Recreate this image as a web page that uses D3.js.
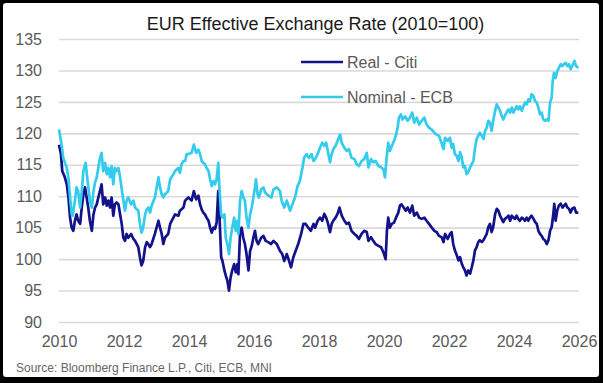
<!DOCTYPE html>
<html><head><meta charset="utf-8">
<script src="https://cdn.jsdelivr.net/npm/d3@7"></script>
<style>
body{margin:0;background:#000;}
svg{display:block;}
text{font-family:"Liberation Sans",Arial,sans-serif;}
</style>
</head><body>
<svg id="chart" width="603" height="383"></svg>
<script>
const chartTitle = "EUR Effective Exchange Rate (2010=100)";
const sourceText = "Source: Bloomberg Finance L.P., Citi, ECB, MNI";
const seriesNames = ["Real - Citi", "Nominal - ECB"];
const yTickValues = [90, 95, 100, 105, 110, 115, 120, 125, 130, 135];
const xTickValues = [2010, 2012, 2014, 2016, 2018, 2020, 2022, 2024, 2026];

const realDates = [
2010.00,2010.06,2010.10,2010.18,2010.24,2010.29,2010.34,2010.39,2010.44,2010.49,2010.54,2010.59,2010.65,2010.70,2010.75,2010.80,2010.85,2010.90,2010.95,
2011.01,2011.06,2011.11,2011.16,2011.21,2011.26,2011.31,2011.36,2011.42,2011.47,2011.52,2011.57,2011.62,2011.67,2011.72,2011.77,2011.83,2011.88,2011.93,2011.98,
2012.03,2012.08,2012.13,2012.22,2012.29,2012.34,2012.44,2012.49,2012.54,2012.59,2012.65,2012.70,2012.75,2012.80,2012.85,2012.95,
2013.06,2013.11,2013.16,2013.21,2013.26,2013.36,2013.42,2013.52,2013.57,2013.67,2013.72,2013.83,2013.88,2013.98,
2014.08,2014.15,2014.22,2014.29,2014.34,2014.39,2014.44,2014.49,2014.54,2014.60,2014.65,2014.70,2014.75,2014.80,2014.85,2014.90,2014.94,2014.99,
2015.03,2015.09,2015.13,2015.18,2015.23,2015.28,2015.33,2015.39,2015.44,2015.49,2015.52,2015.57,2015.62,2015.67,2015.72,2015.77,2015.83,2015.88,2015.93,2015.98,
2016.03,2016.08,2016.13,2016.22,2016.29,2016.36,2016.44,2016.52,2016.60,2016.70,2016.80,2016.87,2016.93,
2017.01,2017.08,2017.14,2017.21,2017.28,2017.36,2017.45,2017.52,2017.59,2017.67,2017.75,2017.83,2017.88,2017.96,
2018.03,2018.10,2018.16,2018.22,2018.27,2018.34,2018.39,2018.44,2018.51,2018.57,2018.63,2018.70,2018.78,2018.85,2018.92,
2019.00,2019.09,2019.16,2019.23,2019.31,2019.39,2019.47,2019.52,2019.60,2019.67,2019.74,2019.83,2019.91,2019.98,
2020.05,2020.09,2020.13,2020.18,2020.24,2020.31,2020.37,2020.44,2020.49,2020.54,2020.605,2020.67,2020.73,2020.80,2020.87,2020.93,
2021.01,2021.08,2021.16,2021.24,2021.31,2021.385,2021.47,2021.55,2021.62,2021.69,2021.77,2021.83,2021.88,2021.96,
2022.03,2022.08,2022.13,2022.18,2022.24,2022.29,2022.34,2022.39,2022.44,2022.49,2022.54,2022.59,2022.65,2022.70,2022.75,2022.80,2022.85,2022.90,2022.95,
2023.01,2023.06,2023.11,2023.16,2023.21,2023.26,2023.31,2023.36,2023.42,2023.47,2023.52,2023.57,2023.62,2023.67,2023.72,2023.77,2023.83,2023.88,2023.93,2023.98,
2024.03,2024.08,2024.13,2024.18,2024.24,2024.29,2024.34,2024.39,2024.44,2024.49,2024.54,2024.60,2024.65,2024.70,2024.75,2024.80,2024.85,2024.90,2024.95,
2025.01,2025.06,2025.11,2025.16,2025.21,2025.24,2025.28,2025.33,2025.38,2025.44,2025.49,2025.54,2025.59,2025.64,2025.69,2025.74,2025.79,2025.86,2025.91,2025.98
];
const realValues = [
118.2,116.7,114.0,113.0,111.9,109.8,106.6,105.0,104.5,106.1,107.1,106.1,105.6,108.2,110.3,111.4,109.8,108.2,106.1,
104.5,107.1,108.2,108.7,109.8,110.8,111.9,108.7,109.8,108.5,109.3,108.2,109.8,106.9,108.7,109.0,108.7,107.1,105.6,103.4,
102.9,104.0,103.4,104.0,103.2,102.9,101.9,100.3,99.0,99.7,101.9,102.7,102.4,101.9,102.4,104.0,
106.1,105.0,104.0,102.4,103.4,104.0,105.6,106.6,107.1,106.9,107.7,108.2,109.3,109.8,
109.3,110.8,109.5,110.1,108.7,107.9,107.4,107.1,106.6,106.1,105.0,104.2,105.0,104.8,105.8,110.8,106.6,100.3,
99.7,98.2,97.4,96.6,95.0,97.1,98.2,99.2,97.9,99.2,97.6,104.0,105.0,103.4,102.4,100.8,98.2,101.3,102.1,103.4,
104.5,102.9,102.4,103.4,103.7,102.9,102.7,102.4,102.9,102.4,101.3,100.8,99.7,
100.8,99.7,98.7,100.3,101.3,102.4,104.0,105.6,105.6,105.0,104.5,105.6,105.0,106.1,
106.6,106.1,107.2,106.6,105.8,104.3,105.6,106.1,106.6,107.2,108.2,106.9,106.1,105.6,105.8,
104.5,104.0,103.7,103.2,104.0,104.5,104.3,102.9,103.5,102.9,102.4,102.1,101.9,101.1,
100.0,104.5,106.6,105.0,105.6,105.8,106.6,107.4,108.5,108.7,108.2,107.7,108.2,107.4,108.5,106.9,
107.4,106.6,106.4,106.6,106.1,105.6,105.0,104.5,104.3,103.7,103.5,102.7,104.0,103.2,
104.0,104.3,102.4,101.4,100.6,99.8,100.3,99.3,98.7,98.2,97.4,98.2,97.7,98.7,99.8,101.4,101.9,102.7,103.0,
102.7,103.0,103.5,104.0,105.1,105.6,104.3,105.1,107.2,108.0,107.7,106.9,106.4,105.9,106.4,106.6,106.9,106.1,106.9,106.6,
106.4,106.9,106.4,106.1,106.6,106.4,106.1,106.6,106.1,106.6,106.9,106.4,105.9,105.6,104.5,104.0,103.7,103.2,103.0,
102.4,103.0,104.5,105.1,107.2,108.8,106.1,107.7,108.5,108.8,108.2,108.5,108.8,108.2,108.0,107.4,108.0,108.2,107.4,107.4
];

const nominalDates = [
2010.00,2010.08,2010.13,2010.24,2010.29,2010.34,2010.39,2010.42,2010.49,2010.54,2010.59,2010.65,2010.70,2010.75,2010.82,2010.88,2010.95,
2011.01,2011.06,2011.11,2011.16,2011.21,2011.26,2011.31,2011.36,2011.42,2011.47,2011.52,2011.57,2011.62,2011.67,2011.72,2011.77,2011.83,2011.88,2011.98,
2012.03,2012.08,2012.13,2012.22,2012.29,2012.34,2012.44,2012.49,2012.54,2012.59,2012.65,2012.70,2012.75,2012.80,2012.85,2012.95,
2013.06,2013.11,2013.16,2013.21,2013.26,2013.36,2013.42,2013.52,2013.57,2013.67,2013.72,2013.77,2013.83,2013.88,2013.93,2013.98,
2014.08,2014.15,2014.22,2014.29,2014.34,2014.39,2014.44,2014.49,2014.54,2014.60,2014.65,2014.70,2014.75,2014.80,2014.85,2014.90,2014.93,2014.99,
2015.03,2015.09,2015.13,2015.18,2015.23,2015.28,2015.33,2015.39,2015.44,2015.49,2015.52,2015.57,2015.62,2015.67,2015.72,2015.77,2015.83,2015.88,2015.93,2015.98,
2016.03,2016.06,2016.11,2016.15,2016.22,2016.29,2016.34,2016.44,2016.54,2016.60,2016.70,2016.80,2016.85,2016.93,
2017.01,2017.06,2017.11,2017.18,2017.26,2017.34,2017.41,2017.49,2017.54,2017.62,2017.69,2017.77,2017.83,2017.88,2017.96,
2018.03,2018.10,2018.16,2018.22,2018.27,2018.34,2018.39,2018.44,2018.51,2018.57,2018.65,2018.70,2018.78,2018.85,2018.92,
2019.00,2019.09,2019.16,2019.23,2019.31,2019.39,2019.47,2019.52,2019.60,2019.67,2019.74,2019.83,2019.91,2019.98,
2020.03,2020.08,2020.13,2020.18,2020.24,2020.31,2020.37,2020.42,2020.46,2020.52,2020.57,2020.65,2020.73,2020.80,2020.87,2020.93,
2021.01,2021.08,2021.16,2021.24,2021.31,2021.385,2021.47,2021.55,2021.62,2021.69,2021.77,2021.83,2021.88,2021.96,
2022.03,2022.08,2022.13,2022.18,2022.24,2022.29,2022.34,2022.39,2022.44,2022.49,2022.54,2022.59,2022.65,2022.70,2022.75,2022.80,2022.85,2022.90,2022.95,
2023.01,2023.06,2023.11,2023.16,2023.21,2023.26,2023.31,2023.36,2023.42,2023.47,2023.52,2023.57,2023.62,2023.67,2023.72,2023.77,2023.83,2023.88,2023.93,2023.98,
2024.03,2024.08,2024.13,2024.18,2024.24,2024.29,2024.34,2024.39,2024.44,2024.49,2024.54,2024.60,2024.65,2024.70,2024.75,2024.80,2024.85,2024.90,2024.95,
2025.01,2025.06,2025.11,2025.16,2025.19,2025.23,2025.28,2025.33,2025.38,2025.44,2025.49,2025.54,2025.59,2025.64,2025.69,2025.74,2025.79,2025.86,2025.91,2025.98
];
const nominalValues = [
120.6,118.2,116.1,114.5,112.9,109.8,107.1,106.9,109.3,111.4,110.8,108.2,110.8,114.0,115.3,112.4,109.3,
108.2,110.8,112.2,113.0,114.5,116.1,116.9,114.0,115.3,113.5,114.5,113.0,114.8,111.9,114.5,114.0,114.5,113.0,109.3,
107.7,109.3,109.8,108.7,109.3,108.2,107.7,105.6,104.2,105.0,107.1,107.9,108.2,107.4,108.5,109.8,
113.0,111.4,110.3,109.8,110.3,110.8,112.7,113.5,114.0,114.5,113.7,115.1,115.6,115.6,116.7,116.7,
116.9,118.2,116.9,117.4,116.7,115.6,115.3,115.1,114.5,114.0,112.7,111.6,112.4,111.9,112.7,115.3,111.9,107.1,
106.6,107.1,103.4,102.4,100.8,103.4,105.0,106.6,104.5,106.1,104.0,109.3,110.8,109.8,109.3,106.6,105.0,107.1,108.2,109.8,
111.4,112.7,110.3,109.8,111.1,111.4,110.6,110.1,109.8,111.1,111.4,110.8,109.3,108.2,
109.3,108.5,107.7,108.7,109.8,111.6,112.4,114.5,116.1,116.7,116.1,116.7,115.6,115.9,116.7,
117.7,118.5,118.0,118.5,117.2,115.4,116.7,117.5,118.0,118.8,119.8,118.5,117.7,117.2,117.5,
116.1,115.9,115.1,114.8,115.6,115.9,116.9,114.6,115.9,115.4,115.6,114.8,114.6,114.3,
113.0,116.1,118.5,117.2,118.0,118.8,119.8,120.9,122.5,123.0,122.2,122.7,122.0,122.5,123.3,121.7,
122.5,121.4,122.0,122.5,121.4,120.9,120.6,120.1,119.8,119.6,118.5,117.5,119.3,118.8,
119.3,117.7,118.3,116.7,116.4,115.6,117.0,116.2,114.6,114.8,113.5,113.8,114.6,115.1,115.6,117.7,119.1,119.6,120.1,
119.6,119.1,120.4,120.9,122.0,121.7,120.4,122.0,123.6,124.6,124.1,123.6,122.8,122.2,122.8,123.3,123.8,123.3,124.1,123.3,
123.8,124.3,123.8,124.3,123.6,124.3,124.9,124.6,125.4,125.1,126.2,125.9,125.1,124.9,124.1,123.0,123.3,122.2,122.0,
122.2,122.0,124.9,125.7,128.3,129.6,128.8,129.9,130.4,131.0,130.7,131.0,131.2,130.7,131.0,130.2,130.7,131.5,130.7,130.4
];

const W = 603, H = 383;
const svg = d3.select("#chart");

// frame
svg.append("rect").attr("x",0).attr("y",0).attr("width",W).attr("height",H).attr("fill","#000");
svg.append("rect").attr("x",3).attr("y",3).attr("width",596).attr("height",374).attr("rx",3).attr("fill","#fff");

const x = d3.scaleLinear().domain([2010, 2026]).range([59, 579]);
const y = d3.scaleLinear().domain([90, 135]).range([322, 39]);

// gridlines
const grid = svg.append("g").attr("transform","translate(59,0)")
  .call(d3.axisLeft(y).tickValues(yTickValues).tickSize(-(579-59)).tickFormat(""));
grid.select(".domain").remove();
grid.selectAll("line").attr("stroke","#d9d9d9").attr("stroke-width",1.6);

// y labels
const yAx = svg.append("g").attr("transform","translate(42,0)")
  .call(d3.axisLeft(y).tickValues(yTickValues).tickSize(0).tickPadding(0));
yAx.select(".domain").remove();
yAx.selectAll("text").attr("fill","#595959").style("font-size","16px")
  .style("font-family","'Liberation Sans',Arial,sans-serif");

// x labels
const xAx = svg.append("g").attr("transform","translate(0,336)")
  .call(d3.axisBottom(x).tickValues(xTickValues).tickSize(0).tickPadding(0).tickFormat(d3.format("d")));
xAx.select(".domain").remove();
xAx.selectAll("text").attr("fill","#595959").style("font-size","16px")
  .style("font-family","'Liberation Sans',Arial,sans-serif");

const line = d3.line().x(d => x(d[0])).y(d => y(d[1]));
const realData = realDates.map((d,i) => [d, realValues[i]]);
const nomData = nominalDates.map((d,i) => [d, nominalValues[i]]);
const colors = ["#13128a", "#33ccec"];

svg.append("path").datum(realData).attr("d", line).attr("fill","none")
  .attr("stroke", colors[0]).attr("stroke-width", 2.7).attr("stroke-linejoin","round");
svg.append("path").datum(nomData).attr("d", line).attr("fill","none")
  .attr("stroke", colors[1]).attr("stroke-width", 2.7).attr("stroke-linejoin","round");

// legend
const legY = [62, 97];
seriesNames.forEach((n,i) => {
  svg.append("line").attr("x1",301).attr("x2",343).attr("y1",legY[i]).attr("y2",legY[i])
    .attr("stroke",colors[i]).attr("stroke-width",2.4);
  svg.append("text").attr("x",347).attr("y",legY[i]+6).text(n)
    .attr("fill","#595959").style("font-size","16px");
});

// title
svg.append("text").attr("x",315.5).attr("y",29.5).attr("text-anchor","middle")
  .text(chartTitle).attr("fill","#1a1a1a").style("font-size","18px");

// source
svg.append("text").attr("x",16).attr("y",372).text(sourceText)
  .attr("fill","#666").style("font-size","12px");
</script>
</body></html>
